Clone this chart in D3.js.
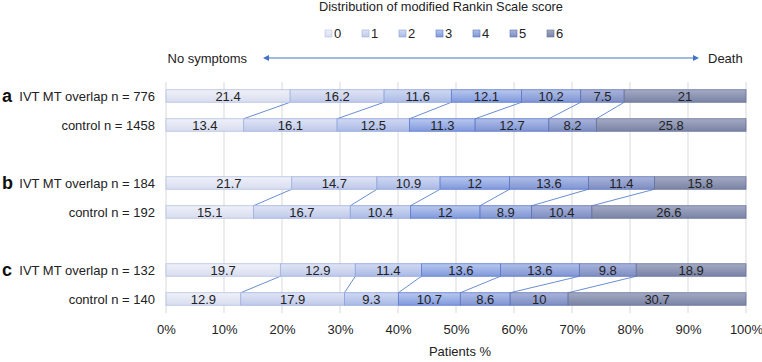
<!DOCTYPE html>
<html>
<head>
<meta charset="utf-8">
<script src="https://cdn.jsdelivr.net/npm/d3@7"></script>
<style>
  body { margin: 0; background: #fff; }
  text { font-family: "Liberation Sans", Arial, sans-serif; fill: #222; }
</style>
</head>
<body>
<svg id="chart" width="762" height="362"></svg>
<script>
// data
const groups = ["a", "b", "c"];
const rowLabels = [
  "IVT MT overlap n = 776", "control n = 1458",
  "IVT MT overlap n = 184", "control n = 192",
  "IVT MT overlap n = 132", "control n = 140"
];
const scores = ["0", "1", "2", "3", "4", "5", "6"];
const a_ivt = [21.4, 16.2, 11.6, 12.1, 10.2, 7.5, 21];
const a_ctl = [13.4, 16.1, 12.5, 11.3, 12.7, 8.2, 25.8];
const b_ivt = [21.7, 14.7, 10.9, 12, 13.6, 11.4, 15.8];
const b_ctl = [15.1, 16.7, 10.4, 12, 8.9, 10.4, 26.6];
const c_ivt = [19.7, 12.9, 11.4, 13.6, 13.6, 9.8, 18.9];
const c_ctl = [12.9, 17.9, 9.3, 10.7, 8.6, 10, 30.7];
const xTicks = [0, 0.1, 0.2, 0.3, 0.4, 0.5, 0.6, 0.7, 0.8, 0.9, 1];

// colours: top of gradient, bottom of gradient, border
const topColors = ["#eff1f9", "#e0e5f5", "#d0d9f2", "#b9c8ef", "#b0bfe9", "#a9b4dc", "#a3aac4"];
const botColors = ["#d8ddef", "#bfc9ea", "#aabae6", "#8099dc", "#7f94d2", "#7d8dc1", "#7a83a5"];
const strokeColors = ["#b5c0e2", "#9fb0e0", "#8ba1dd", "#5b7bd0", "#5a76c8", "#5e70b5", "#66729c"];

const svg = d3.select("#chart");
const margin = { left: 166, right: 16 };
const width = 762 - margin.left - margin.right;
const fs = "13px";

const seriesRows = [a_ivt, a_ctl, b_ivt, b_ctl, c_ivt, c_ctl];
const table = seriesRows.map((vals, i) => {
  const o = { row: i };
  scores.forEach((s, j) => (o[s] = vals[j]));
  return o;
});
const stacked = d3.stack().keys(scores).offset(d3.stackOffsetExpand)(table);

// row slots: two rows per group, one empty slot between groups
const slots = [0, 1, 3, 4, 6, 7];
const x = d3.scaleLinear().domain([0, 1]).range([margin.left, margin.left + width]);
const y = d3.scalePoint().domain(d3.range(8)).range([96, 299]);
const barH = 12.5;

// gradients
const defs = svg.append("defs");
scores.forEach((s, j) => {
  const g = defs.append("linearGradient")
    .attr("id", "grad" + j)
    .attr("x1", 0).attr("y1", 0).attr("x2", 0).attr("y2", 1);
  g.append("stop").attr("offset", "0%").attr("stop-color", topColors[j]);
  g.append("stop").attr("offset", "100%").attr("stop-color", botColors[j]);
});

// title
svg.append("text")
  .attr("x", 441).attr("y", 11)
  .attr("text-anchor", "middle")
  .style("font-size", "12.8px")
  .text("Distribution of modified Rankin Scale score");

// legend
const legend = svg.append("g").selectAll("g")
  .data(scores)
  .join("g")
  .attr("transform", (d, i) => `translate(${325 + i * 37},30)`);
legend.append("rect")
  .attr("width", 7).attr("height", 7)
  .attr("fill", (d, i) => `url(#grad${i})`)
  .attr("stroke", (d, i) => strokeColors[i])
  .attr("stroke-width", 0.6);
legend.append("text")
  .attr("x", 9).attr("y", 7.5)
  .style("font-size", fs)
  .text((d) => d);

// arrow
const arrowY = 58;
const arrowCol = "#4472c4";
svg.append("line")
  .attr("x1", 266).attr("x2", 696)
  .attr("y1", arrowY).attr("y2", arrowY)
  .attr("stroke", arrowCol).attr("stroke-width", 1);
svg.append("path")
  .attr("d", `M263,${arrowY} L269,${arrowY - 3} L269,${arrowY + 3} Z`)
  .attr("fill", arrowCol);
svg.append("path")
  .attr("d", `M699,${arrowY} L693,${arrowY - 3} L693,${arrowY + 3} Z`)
  .attr("fill", arrowCol);
svg.append("text")
  .attr("x", 247).attr("y", arrowY + 4.5)
  .attr("text-anchor", "end")
  .style("font-size", fs)
  .text("No symptoms");
svg.append("text")
  .attr("x", 708).attr("y", arrowY + 4.5)
  .style("font-size", fs)
  .text("Death");

// gridlines
svg.append("g").selectAll("line")
  .data(xTicks)
  .join("line")
  .attr("x1", (d) => x(d)).attr("x2", (d) => x(d))
  .attr("y1", 82).attr("y2", 313)
  .attr("stroke", "#d9d9d9").attr("stroke-width", 1);

// x axis labels
const xAxis = svg.append("g")
  .attr("transform", "translate(0,322)")
  .call(d3.axisBottom(x).tickValues(xTicks).tickFormat(d3.format(".0%")).tickSize(0));
xAxis.select(".domain").remove();
xAxis.selectAll("text")
  .style("font-family", '"Liberation Sans", Arial, sans-serif')
  .style("font-size", fs)
  .attr("fill", "#222");

svg.append("text")
  .attr("x", 460).attr("y", 356)
  .attr("text-anchor", "middle")
  .style("font-size", fs)
  .text("Patients %");

// connectors between the two bars of each group
const connectors = [];
groups.forEach((g, gi) => {
  const top = gi * 2, bot = gi * 2 + 1;
  for (let j = 0; j < scores.length - 1; j++) {
    connectors.push({
      x1: x(stacked[j][top][1]), y1: y(slots[top]) + barH / 2,
      x2: x(stacked[j][bot][1]), y2: y(slots[bot]) - barH / 2
    });
  }
});
svg.append("g").selectAll("line")
  .data(connectors)
  .join("line")
  .attr("x1", (d) => d.x1).attr("y1", (d) => d.y1)
  .attr("x2", (d) => d.x2).attr("y2", (d) => d.y2)
  .attr("stroke", arrowCol).attr("stroke-width", 0.8);

// bars
const layers = svg.append("g").selectAll("g")
  .data(stacked)
  .join("g");
layers.selectAll("rect")
  .data((d) => d.map((p) => ({ p, key: d.index })))
  .join("rect")
  .attr("x", (d) => x(d.p[0]))
  .attr("y", (d, i) => y(slots[i]) - barH / 2)
  .attr("width", (d) => x(d.p[1]) - x(d.p[0]))
  .attr("height", barH)
  .attr("fill", (d) => `url(#grad${d.key})`)
  .attr("stroke", (d) => strokeColors[d.key])
  .attr("stroke-width", 0.8);

// value labels
layers.selectAll("text")
  .data((d) => d.map((p, i) => ({ p, key: d.index, v: seriesRows[i][d.index] })))
  .join("text")
  .attr("x", (d) => x((d.p[0] + d.p[1]) / 2))
  .attr("y", (d, i) => y(slots[i]) + 4.5)
  .attr("text-anchor", "middle")
  .style("font-size", fs)
  .text((d) => d.v);

// row labels
svg.append("g").selectAll("text")
  .data(rowLabels)
  .join("text")
  .attr("x", 155)
  .attr("y", (d, i) => y(slots[i]) + 4.5)
  .attr("text-anchor", "end")
  .style("font-size", fs)
  .text((d) => d);

// group letters
svg.append("g").selectAll("text")
  .data(groups)
  .join("text")
  .attr("x", 2)
  .attr("y", (d, i) => y(slots[i * 2]) + 5.5)
  .style("font-size", "18px")
  .style("font-weight", "bold")
  .style("fill", "#111")
  .text((d) => d);
</script>
</body>
</html>
